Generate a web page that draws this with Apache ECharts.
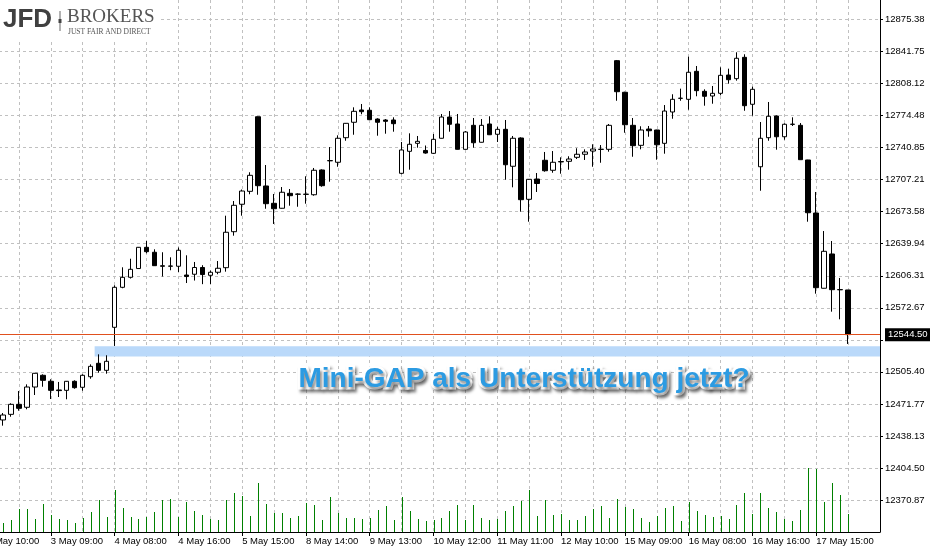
<!DOCTYPE html>
<html>
<head>
<meta charset="utf-8">
<script src="https://cdn.jsdelivr.net/npm/echarts@6/dist/echarts.min.js"></script>
<style>
html,body{margin:0;padding:0;background:#fff;overflow:hidden;width:930px;height:552px;position:relative;}
#chart{position:absolute;left:-16px;top:0;width:946px;height:552px;}
</style>
</head>
<body>
<div id="chart"></div>
<script>
// ---------- data ----------
const days = ['2 May','3 May','4 May','5 May','8 May','9 May','10 May','11 May','12 May','15 May','16 May','17 May','18 May'];
const sessionHours = ['08:00','09:00','10:00','11:00','12:00','13:00','14:00','15:00','16:00'];
const firstCategory = '2 May 10:00';
const lastCategory = '18 May 14:00';
const firstBar = '2 May 12:00';

const openP = [12454.9,12460.8,12471.3,12468.2,12489.5,12501.8,12495.5,12486.4,12486.0,12495.5,
12489.2,12500.3,12514.4,12507.0,12552.2,12594.2,12604.7,12613.9,12636.2,12631.0,
12616.8,12616.3,12616.3,12607.1,12607.9,12615.0,12606.8,12610.0,12614.8,12652.6,
12681.4,12695.0,12773.3,12700.6,12682.4,12677.2,12692.9,12691.9,12691.8,12691.4,
12717.4,12727.0,12725.5,12751.3,12767.5,12780.4,12780.1,12770.9,12769.9,12769.9,
12713.9,12737.0,12745.4,12737.9,12734.9,12750.7,12773.0,12765.7,12739.1,12764.3,
12746.5,12765.7,12754.9,12760.1,12721.3,12751.0,12686.6,12707.9,12727.6,12717.1,
12726.2,12726.5,12730.7,12733.9,12737.3,12739.0,12739.1,12832.2,12799.0,12764.3,
12743.3,12760.4,12759.4,12745.4,12778.3,12792.8,12791.6,12821.0,12800.0,12795.1,
12797.9,12817.1,12813.3,12835.7,12786.4,12720.8,12751.3,12774.1,12752.3,12765.5,
12764.3,12727.9,12672.2,12593.2,12629.2,12591.8,12591.4];
const closeP = [12460.1,12471.3,12467.1,12489.5,12503.9,12496.5,12486.0,12485.7,12495.5,12488.8,
12501.8,12511.2,12507.0,12516.5,12594.2,12604.7,12613.1,12636.2,12631.6,12616.9,
12616.3,12616.6,12633.1,12605.5,12615.0,12607.6,12610.0,12614.2,12652.0,12680.3,
12695.3,12711.8,12700.9,12682.0,12676.7,12694.0,12690.4,12692.1,12692.0,12717.1,
12700.9,12727.3,12750.7,12766.4,12779.0,12778.6,12770.2,12767.5,12768.5,12766.0,
12738.4,12744.4,12747.5,12735.2,12749.6,12773.0,12765.4,12739.1,12757.3,12746.0,
12764.3,12754.4,12760.1,12722.9,12750.7,12686.2,12707.6,12703.2,12716.6,12725.5,
12725.9,12728.9,12733.9,12736.3,12739.4,12739.2,12764.3,12799.6,12764.9,12742.9,
12759.4,12758.6,12743.9,12779.3,12791.6,12792.6,12820.0,12800.7,12794.8,12797.9,
12816.8,12812.2,12834.7,12784.9,12802.1,12750.7,12773.8,12752.3,12765.4,12765.3,
12728.2,12672.5,12593.8,12632.0,12591.7,12591.6,12544.5];
const lowP = [12448.9,12458.3,12464.6,12466.1,12481.1,12489.8,12476.9,12479.0,12476.6,12487.7,
12485.6,12498.2,12504.5,12503.5,12532.6,12593.2,12603.4,12613.7,12629.9,12616.6,
12605.5,12612.1,12610.3,12598.7,12601.3,12597.5,12597.7,12607.9,12610.6,12648.4,
12669.4,12691.9,12691.4,12676.7,12660.7,12676.9,12679.9,12678.8,12682.0,12690.4,
12699.8,12705.1,12720.8,12748.1,12754.4,12775.9,12769.9,12753.4,12755.5,12757.6,
12712.9,12717.7,12740.8,12734.5,12734.2,12750.5,12757.6,12738.9,12738.9,12740.8,
12746.3,12754.1,12746.8,12707.2,12699.2,12673.6,12663.1,12694.3,12715.6,12714.5,
12713.5,12717.7,12728.9,12727.9,12720.8,12725.0,12736.6,12790.1,12756.5,12731.3,
12739.1,12752.3,12728.2,12734.5,12771.2,12790.1,12780.7,12794.8,12784.9,12787.0,
12795.8,12808.0,12811.2,12779.6,12774.4,12695.6,12748.1,12738.7,12749.2,12763.6,
12728.0,12663.1,12587.5,12593.0,12568.6,12560.6,12534.7];
const highP = [12462.2,12472.4,12485.3,12492.3,12504.2,12502.8,12497.6,12494.8,12495.8,12496.5,
12502.8,12513.3,12523.8,12522.8,12596.3,12615.2,12624.2,12636.5,12642.8,12634.1,
12631.0,12625.7,12636.0,12627.8,12620.8,12617.4,12611.8,12621.8,12669.4,12684.8,
12696.9,12715.0,12773.6,12722.6,12692.2,12699.5,12697.4,12692.9,12710.8,12719.5,
12718.1,12741.5,12753.8,12766.7,12783.2,12786.7,12783.2,12771.7,12770.9,12772.7,
12746.8,12755.9,12753.1,12743.1,12755.2,12776.2,12779.3,12776.2,12758.3,12772.0,
12770.9,12773.8,12762.8,12769.9,12753.1,12751.7,12707.9,12714.2,12736.3,12737.3,
12730.7,12731.8,12740.2,12739.1,12744.4,12743.6,12765.7,12832.9,12799.6,12772.0,
12763.3,12763.6,12759.6,12785.6,12796.9,12802.8,12836.4,12826.6,12802.1,12805.6,
12825.2,12823.8,12841.0,12838.9,12804.9,12767.8,12788.8,12774.8,12766.4,12772.7,
12766.7,12728.1,12694.3,12653.3,12642.8,12604.0,12591.4];
const volume = [9,12,23,23,13,28,17,13,12,9,14,20,32,15,42,24,15,13,15,20,
32,33,15,30,21,17,13,12,32,39,36,16,49,28,19,19,14,16,29,27,
12,35,19,14,14,13,14,22,26,12,35,21,13,11,12,14,21,27,12,
27,14,12,13,21,26,31,42,16,32,17,18,12,12,16,23,26,14,33,25,
23,14,10,16,24,26,11,30,21,17,15,16,13,27,39,18,39,24,20,13,
11,22,64,63,30,49,37,18];

const yTickLabels = ['12370.87','12404.50','12438.13','12471.77','12505.40','12572.67','12606.31',
'12639.94','12673.58','12707.21','12740.85','12774.48','12808.12','12841.75','12875.38'];
const yMin = 12337.24, yMax = 12895.9, yStep = 33.634;
const volumeMax = 532;
const lastPrice = 12544.50;
const gapStart = '3 May 15:00';
const gapLow = 12521.5, gapHigh = 12532.2;
const annotation = 'Mini-GAP als Unterstützung jetzt?';
const logoMain = 'JFD', logoName = 'BROKERS', logoTag = 'JUST FAIR AND DIRECT';

// ---------- build ----------
const allSlots = [];
days.forEach(d => sessionHours.forEach(h => allSlots.push(d + ' ' + h)));
const categories = allSlots.slice(allSlots.indexOf(firstCategory), allSlots.indexOf(lastCategory) + 1);
const offset = categories.indexOf(firstBar);
const candleData = categories.map((_, i) => {
  const k = i - offset;
  return (k >= 0 && k < openP.length) ? [openP[k], closeP[k], lowP[k], highP[k]] : ['-','-','-','-'];
});
const volData = volume.map((v, k) => [k + offset, v]);
const lastIdx = categories.length - 1;
const labelEvery = (i) => i % 8 === 0 && i < lastIdx;
const gridEvery = (i) => i % 4 === 0;
const FONT = '"Liberation Sans", Arial, sans-serif';
const SHIFT = 16; // chart canvas starts 16px left of the page

const chart = echarts.init(document.getElementById('chart'), null, {renderer: 'canvas'});
chart.setOption({
  animation: false,
  backgroundColor: '#ffffff',
  grid: {left: 0, right: 50, top: 0, bottom: 20, containLabel: false},
  xAxis: {
    type: 'category',
    data: categories,
    boundaryGap: false,
    axisLine: {show: true, lineStyle: {color: '#000', width: 1}},
    axisTick: {show: true, interval: labelEvery, length: 4, lineStyle: {color: '#000'}},
    axisLabel: {show: true, interval: labelEvery, align: 'left', margin: 4, color: '#000',
      fontSize: 9.5, fontFamily: FONT, hideOverlap: false},
    splitLine: {show: true, interval: gridEvery, lineStyle: {color: '#c0c0c0', type: [3, 3], width: 1}}
  },
  yAxis: [{
    type: 'value',
    position: 'right',
    min: yMin, max: yMax, interval: yStep,
    scale: true,
    axisLine: {show: true, onZero: false, lineStyle: {color: '#000', width: 1}},
    axisTick: {show: true, length: 3, lineStyle: {color: '#000'}},
    axisLabel: {
      color: '#000', fontSize: 9.5, fontFamily: FONT, margin: 5,
      showMaxLabel: false, showMinLabel: false,
      formatter: (v) => {
        const hit = yTickLabels.find(t => Math.abs(parseFloat(t) - v) < 0.5);
        return hit || '';
      }
    },
    splitLine: {show: true, showMaxLine: false, showMinLine: false,
      lineStyle: {color: '#c0c0c0', type: [3, 3], width: 1}}
  }, {
    type: 'value', show: false, min: 0, max: volumeMax,
    splitLine: {show: false}
  }],
  series: [{
    type: 'custom',
    name: 'gap',
    silent: true,
    clip: false,
    z: 1,
    data: [[categories.indexOf(gapStart), gapLow, gapHigh]],
    encode: {x: 0, y: [1, 2]},
    renderItem: (params, api) => {
      const i = api.value(0);
      const a = api.coord([i - 1, api.value(1)]);
      const b = api.coord([i, api.value(2)]);
      const e = api.coord([lastIdx, api.value(1)]);
      const xs = (a[0] + b[0]) / 2;
      return {type: 'rect', shape: {x: xs, y: b[1], width: e[0] - xs, height: a[1] - b[1]},
        style: {fill: '#bad9fa'}};
    }
  }, {
    type: 'custom',
    name: 'volume',
    yAxisIndex: 1,
    silent: true,
    z: 2,
    data: volData,
    encode: {x: 0, y: 1},
    renderItem: (params, api) => {
      const top = api.coord([api.value(0), api.value(1)]);
      const base = api.coord([api.value(0), 0]);
      const x = Math.round(top[0]);
      return {type: 'rect', shape: {x: x, y: top[1], width: 1, height: base[1] - top[1]},
        style: {fill: '#008000'}};
    }
  }, {
    type: 'candlestick',
    name: 'price',
    data: candleData,
    barWidth: 5,
    z: 3,
    itemStyle: {color: '#ffffff', color0: '#000000', borderColor: '#000000', borderColor0: '#000000',
      borderColorDoji: '#000000', borderWidth: 1},
    markLine: {
      silent: true, symbol: 'none', animation: false,
      data: [{yAxis: lastPrice}],
      lineStyle: {color: '#e0501e', width: 1, type: 'solid'},
      label: {show: true, position: 'end', distance: 5, formatter: lastPrice.toFixed(2),
        color: '#fff', backgroundColor: '#000', padding: [2, 3, 1, 3], fontSize: 9.5, fontFamily: FONT,
        borderColor: '#000', borderWidth: 0}
    }
  }],
  graphic: [
    {type: 'rect', z: 100, x: 0, y: 0, shape: {width: 158 + SHIFT, height: 40}, style: {fill: '#fff'}},
    {type: 'text', z: 101, x: 3 + SHIFT, y: 7, style: {text: logoMain, font: 'bold 26px "Liberation Sans", Arial', fill: '#404040'}},
    {type: 'rect', z: 101, x: 59.5 + SHIFT, y: 11, shape: {width: 1, height: 20}, style: {fill: '#666'}},
    {type: 'rect', z: 101, x: 58.5 + SHIFT, y: 19, shape: {width: 3, height: 4}, style: {fill: '#444'}},
    {type: 'text', z: 101, x: 67 + SHIFT, y: 8, style: {text: logoName, font: '19px "Liberation Serif", "DejaVu Serif", serif', fill: '#555'}},
    {type: 'text', z: 101, x: 68 + SHIFT, y: 28, style: {text: logoTag, font: '7.5px "Liberation Serif", serif', fill: '#555'}},
    {type: 'text', z: 102, x: 524 + SHIFT, y: 379,
      style: {text: annotation, font: 'bold 28px "Liberation Sans", Arial, sans-serif',
        fill: '#2c9be2', stroke: '#ffffff', lineWidth: 5,
        align: 'center', verticalAlign: 'middle',
        textShadowColor: 'rgba(0,0,0,0.45)', textShadowBlur: 3, textShadowOffsetX: 2, textShadowOffsetY: 3}}
  ]
});
</script>
</body>
</html>
